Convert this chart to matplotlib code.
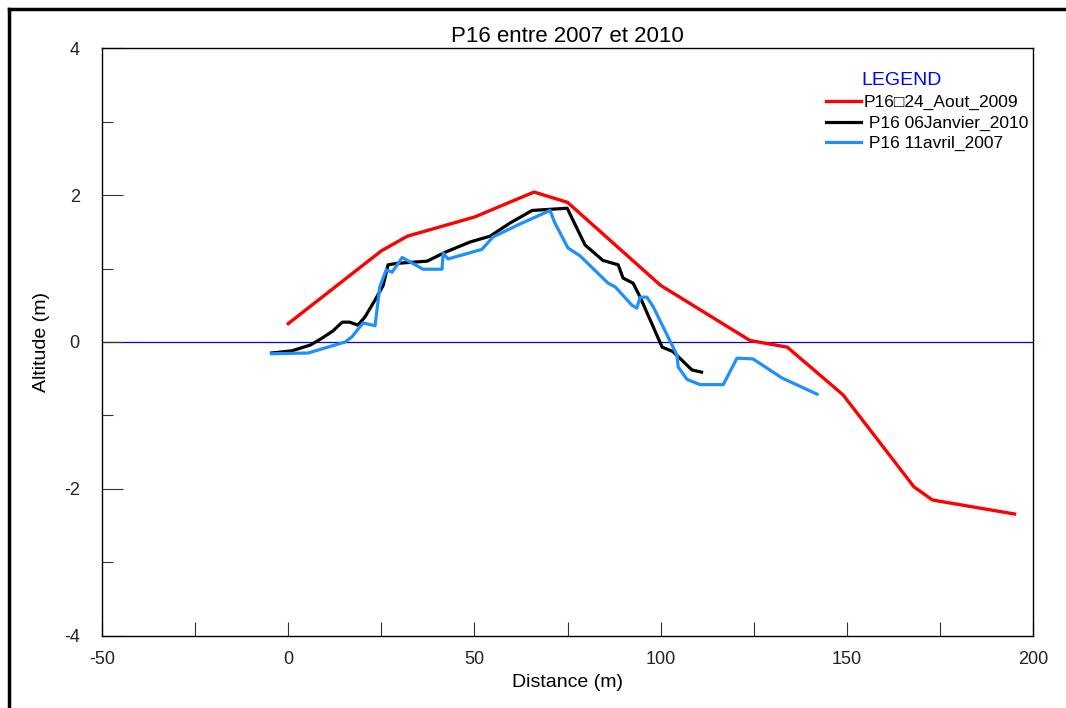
import matplotlib
matplotlib.use('Agg')
import matplotlib.pyplot as plt
from matplotlib.lines import Line2D
from matplotlib.ticker import MultipleLocator

plt.rcParams['font.family'] = ['Liberation Sans', 'DejaVu Sans']
plt.rcParams['axes.unicode_minus'] = False

# P16 24 Aout 2009 (red)
aout_x = [0, 25, 32, 50, 66, 75, 100, 124, 134, 149, 168, 173, 195]
aout_y = [0.25, 1.24, 1.44, 1.70, 2.04, 1.90, 0.77, 0.02, -0.07, -0.72, -1.97, -2.15, -2.34]

# P16 06 Janvier 2010 (black)
janv_x = [-4.5, 1, 6, 9, 12, 14.5, 16.5, 18.7, 20.6, 23.3, 25.5, 26.8, 29.2, 37.3, 42.1,
          48.8, 54.2, 59.6, 65.5, 74.9, 79.7, 84.5, 88.6, 89.9, 92.6, 94.5, 100.4, 103.3,
          108.4, 111]
janv_y = [-0.15, -0.12, -0.04, 0.05, 0.15, 0.27, 0.27, 0.23, 0.34, 0.57, 0.77, 1.05, 1.07,
          1.10, 1.22, 1.36, 1.44, 1.62, 1.79, 1.82, 1.32, 1.11, 1.05, 0.87, 0.80, 0.61,
          -0.07, -0.13, -0.38, -0.41]

# P16 11 avril 2007 (blue)
avril_x = [-4.5, 5.3, 15.3, 17.1, 20.1, 23.3, 24.6, 26.3, 27.9, 30.6, 36.2, 41.3, 41.6,
           42.9, 52.0, 55.0, 62.0, 70.3, 71.6, 75.1, 78.4, 85.9, 87.8, 92.3, 93.6, 94.5,
           96.3, 98.0, 104.4, 104.7, 107.1, 110.6, 113.3, 116.8, 120.5, 124.8, 132.6,
           135.6, 142.0]
avril_y = [-0.16, -0.15, 0.0, 0.07, 0.26, 0.22, 0.75, 0.98, 0.95, 1.15, 0.99, 0.99, 1.21,
           1.13, 1.26, 1.43, 1.60, 1.79, 1.62, 1.28, 1.17, 0.80, 0.75, 0.50, 0.46, 0.61,
           0.61, 0.48, -0.18, -0.34, -0.51, -0.58, -0.58, -0.58, -0.22, -0.23, -0.49,
           -0.56, -0.71]

fig = plt.figure(figsize=(10.66, 7.08), dpi=100)
ax = fig.add_axes([0.0957, 0.1017, 0.8734, 0.8305])

ax.axhline(0, color='#0000ff', lw=0.9, zorder=1)
l1, = ax.plot(aout_x, aout_y, color='#ff0000', lw=2.4, label='P16\u25a124_Aout_2009')
l2, = ax.plot(janv_x, janv_y, color='black', lw=2.3, label=' P16 06Janvier_2010')
l3, = ax.plot(avril_x, avril_y, color='#1e8fff', lw=2.3, label=' P16 11avril_2007')

ax.set_xlim(-50, 200)
ax.set_ylim(-4, 4)
ax.xaxis.set_major_locator(MultipleLocator(50))
ax.xaxis.set_minor_locator(MultipleLocator(25))
ax.yaxis.set_major_locator(MultipleLocator(2))
ax.yaxis.set_minor_locator(MultipleLocator(1))
ax.tick_params(which='both', direction='in', width=0.8, labelsize=13,
               color='#333333', labelcolor='#222222')
ax.tick_params(axis='y', which='major', length=15, pad=16)
ax.tick_params(axis='y', which='minor', length=8)
ax.tick_params(axis='x', which='both', length=10, pad=11)
for s in ax.spines.values():
    s.set_linewidth(1.0)

ax.set_title('P16 entre 2007 et 2010', fontsize=16, pad=4)
ax.set_xlabel('Distance (m)', fontsize=14, labelpad=4)
ax.set_ylabel('Altitude (m)', fontsize=14, labelpad=10)

ax.text(0.816, 0.945, 'LEGEND', transform=ax.transAxes, color='#0000ff', fontsize=14,
        va='center', ha='left')
ax.legend(handles=[l1, l2, l3], loc='upper left', bbox_to_anchor=(0.778, 0.92),
          frameon=False, fontsize=12.5, handlelength=2.0, handletextpad=0.15,
          labelspacing=0.3, borderaxespad=0, borderpad=0)

# outer frame (left and top edges)
fig.add_artist(Line2D([0.0085, 0.0085], [0, 0.987], transform=fig.transFigure,
                      color='black', lw=2.5))
fig.add_artist(Line2D([0.0085, 1.0], [0.987, 0.987], transform=fig.transFigure,
                      color='black', lw=2.5))

fig.savefig('out.png', dpi=100)
